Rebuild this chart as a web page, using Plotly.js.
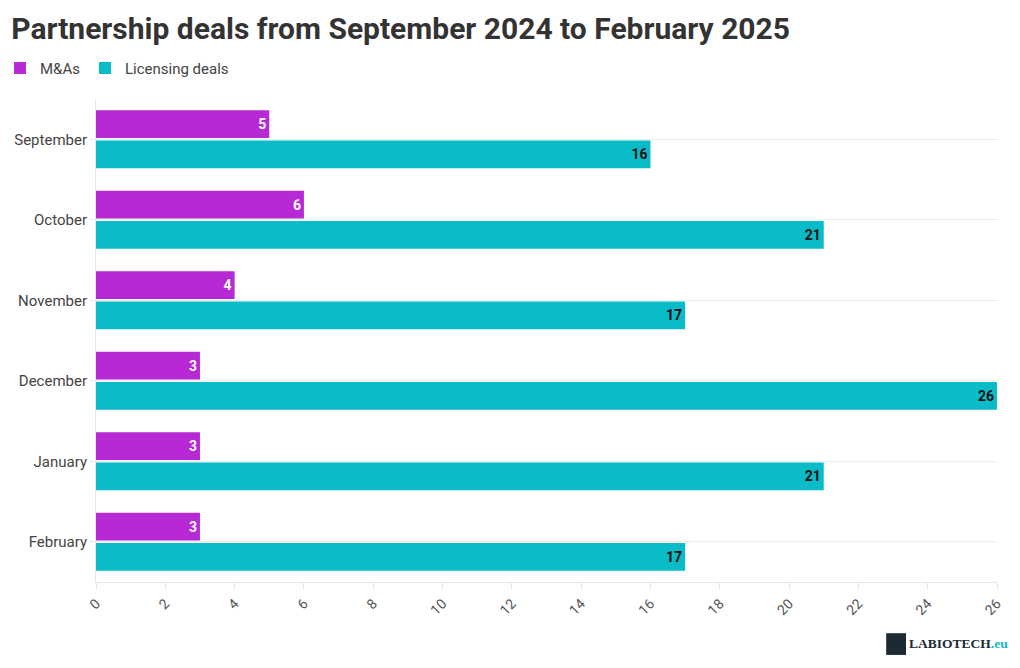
<!DOCTYPE html>
<html>
<head>
<meta charset="utf-8">
<script src="https://cdn.plot.ly/plotly-3.0.1.min.js"></script>
<style>
  body { margin: 0; background: #fff; }
  #chart { width: 1020px; height: 668px; }
</style>
</head>
<body>
<div id="chart"></div>
<script>
// data
var months = ["September", "October", "November", "December", "January", "February"];
var mergers = [5, 6, 4, 3, 3, 3];
var licensing = [16, 21, 17, 26, 21, 17];
var xTicks = [0, 2, 4, 6, 8, 10, 12, 14, 16, 18, 20, 22, 24, 26];

var fontFam = "Roboto, 'Open Sans', sans-serif";

var trace1 = {
  y: months,
  x: mergers,
  type: "bar",
  orientation: "h",
  name: "M&As",
  marker: { color: "#b829d6" },
  text: mergers.map(String),
  textposition: "inside",
  insidetextanchor: "end",
  textfont: { color: "#ffffff", size: 14, family: fontFam, weight: "bold" },
  hoverinfo: "x+name"
};

var trace2 = {
  y: months,
  x: licensing,
  type: "bar",
  orientation: "h",
  name: "Licensing deals",
  marker: { color: "#0abbc8" },
  text: licensing.map(String),
  textposition: "inside",
  insidetextanchor: "end",
  textfont: { color: "#111111", size: 14, family: fontFam, weight: "bold" },
  hoverinfo: "x+name"
};

var data = [trace1, trace2];

var layout = {
  width: 1020,
  height: 668,
  margin: { l: 96, r: 23, t: 99, b: 86 },
  paper_bgcolor: "#ffffff",
  plot_bgcolor: "#ffffff",
  font: { family: fontFam, color: "#444444" },
  title: {
    text: "<b>Partnership deals from September 2024 to February 2025</b>",
    x: 0.011, xanchor: "left", xref: "container",
    y: 0.958, yanchor: "middle", yref: "container",
    font: { size: 30, color: "#333333", family: fontFam }
  },
  showlegend: true,
  legend: {
    orientation: "h",
    x: -0.004, xref: "container", xanchor: "left",
    y: 0.898, yref: "container", yanchor: "middle",
    traceorder: "normal",
    font: { size: 15, color: "#444444" },
    itemwidth: 30
  },
  barmode: "group",
  bargap: 0.25,
  bargroupgap: 0.08,
  xaxis: {
    range: [0, 26],
    tickvals: xTicks,
    tickangle: -45,
    showgrid: false,
    zeroline: false,
    showline: true,
    linecolor: "#e6e6e6",
    ticks: "outside",
    ticklen: 7,
    tickcolor: "#e6e6e6",
    tickfont: { size: 14, color: "#555555" }
  },
  yaxis: {
    autorange: "reversed",
    showgrid: true,
    gridcolor: "#eeeeee",
    showline: true,
    linecolor: "#e6e6e6",
    ticks: "outside",
    ticklen: 5,
    tickcolor: "#e6e6e6",
    tickfont: { size: 15, color: "#444444" }
  },
  shapes: [
    { type: "rect", xref: "paper", yref: "paper", x0: 0.877, x1: 0.899, y0: -0.151, y1: -0.106,
      fillcolor: "#1c2a36", line: { width: 0 } }
  ],
  annotations: [
    { text: "<b>LABIOTECH</b><span style='color:#0abbc8'><b>.eu</b></span>",
      xref: "paper", yref: "paper", x: 0.9, y: -0.128, xanchor: "left", yanchor: "middle",
      showarrow: false, font: { size: 13.5, color: "#1c2a36", family: "'Liberation Serif', serif" } }
  ]
};

var config = { responsive: false, displayModeBar: false };

Plotly.newPlot("chart", data, layout, config);
</script>
</body>
</html>
